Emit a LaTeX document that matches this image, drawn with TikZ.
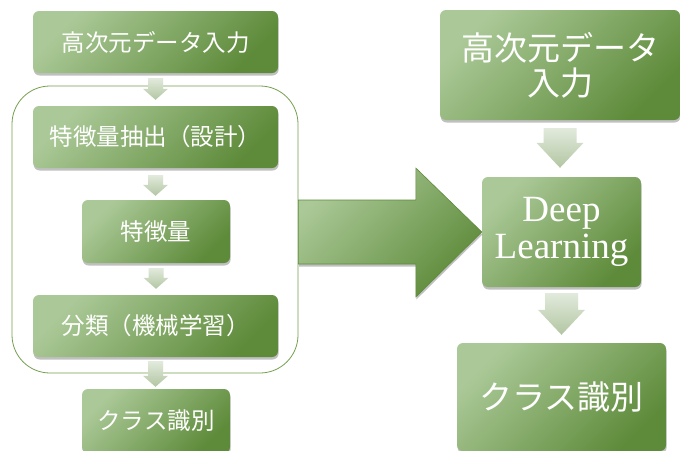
\documentclass[tikz,border=0pt]{standalone}
\usepackage{fontspec}
\setmainfont{Liberation Serif}
\newfontfamily\jp{Noto Sans CJK JP}
\usetikzlibrary{shadows,calc}
\definecolor{gLight}{HTML}{ABC998}
\definecolor{gDark}{HTML}{5E8B3A}
\definecolor{aLight}{HTML}{E2EADC}
\definecolor{aDark}{HTML}{B2C6A2}
\definecolor{gLine}{HTML}{76A04F}
\tikzset{
  box/.style={rounded corners=6pt, top color=gLight, bottom color=gDark, shading angle=45,
    text=white, align=center, inner sep=0pt,
    drop shadow={shadow xshift=0.6pt, shadow yshift=-2.5pt, opacity=0.35, fill=black!70}},
  smallfont/.style={font=\jp\fontsize{23.5}{27}\selectfont},
  bigfont/.style={font=\jp\fontsize{33}{35}\selectfont},
  arrowfill/.style={top color=aLight, bottom color=aDark},
  bigarrow/.style={top color=gLight, bottom color=gDark, shading angle=45, draw=gDark, line width=0.6pt,
    drop shadow={shadow xshift=0.6pt, shadow yshift=-2.5pt, opacity=0.35, fill=black!70}},
  groupbox/.style={draw=gLine, line width=0.8pt, rounded corners=38pt}
}
\newcommand{\blkdown}[5]{%
  \path[arrowfill] let \p1=(#1), \p2=(#2) in
   (\x1-#3,\y1) -- (\x1+#3,\y1) -- (\x1+#3,\y2+#5) -- (\x1+#4,\y2+#5) -- (\x1,\y2)
   -- (\x1-#4,\y2+#5) -- (\x1-#3,\y2+#5) -- cycle;}
\begin{document}
\begin{tikzpicture}[x=1pt,y=-1pt]
\useasboundingbox (0,0) rectangle (680,450);
\clip (0,0) rectangle (680,450);
\fill[white] (0,0) rectangle (680,450);
% container
\node[groupbox, minimum width=286pt, minimum height=287pt] (group) at (155,229.5) {};
% left column
\node[box, smallfont, minimum width=245pt, minimum height=62pt] (in1) at (155.5,42) {高次元データ入力};
\node[box, smallfont, minimum width=245pt, minimum height=62pt] (feat1) at (155.5,137) {特徴量抽出（設計）};
\node[box, smallfont, minimum width=148pt, minimum height=63pt] (feat) at (156,231.5) {特徴量};
\node[box, smallfont, minimum width=245pt, minimum height=62pt] (cls1) at (155.5,326) {分類（機械学習）};
\node[box, smallfont, minimum width=148pt, minimum height=64pt] (out1) at (156,421) {クラス識別};
% right column
\node[box, bigfont, minimum width=240pt, minimum height=110pt] (in2) at (560,65) {高次元データ\\入力};
\node[box, font=\fontsize{37}{37}\selectfont, minimum width=159pt, minimum height=110pt] (deep) at (561.5,232) {Deep\\Learning};
\node[box, bigfont, minimum width=209pt, minimum height=108pt] (out2) at (561.5,397) {クラス識別};
% small arrows left
\blkdown{$(in1.south)+(0,5)$}{$(feat1.north)+(0,-6)$}{7.5pt}{12.5pt}{11pt}
\blkdown{$(feat1.south)+(0,7)$}{$(feat.north)+(0,-4)$}{7.5pt}{12.5pt}{11pt}
\blkdown{$(feat.south)+(0,5)$}{$(cls1.north)+(0,-6)$}{7.5pt}{12.5pt}{11pt}
\blkdown{$(cls1.south)+(0,4)$}{$(out1.north)+(0,-2)$}{7.5pt}{12.5pt}{11pt}
% small arrows right
\blkdown{$(in2.south)+(0,8)$}{$(deep.north)+(0,-9)$}{16.5pt}{23.5pt}{25pt}
\blkdown{$(deep.south)+(0,6)$}{$(out2.north)+(0,-8)$}{16.5pt}{23.5pt}{25pt}
% big arrow
\path[bigarrow] let \p1=(group.east), \p2=(deep.west) in
  (\x1,\y2+32pt) -- (\x2-66pt,\y2+32pt) -- (\x2-66pt,\y2+64pt) -- (\x2,\y2)
  -- (\x2-66pt,\y2-65pt) -- (\x2-66pt,\y2-32pt) -- (\x1,\y2-32pt) -- cycle;
\end{tikzpicture}
\end{document}
